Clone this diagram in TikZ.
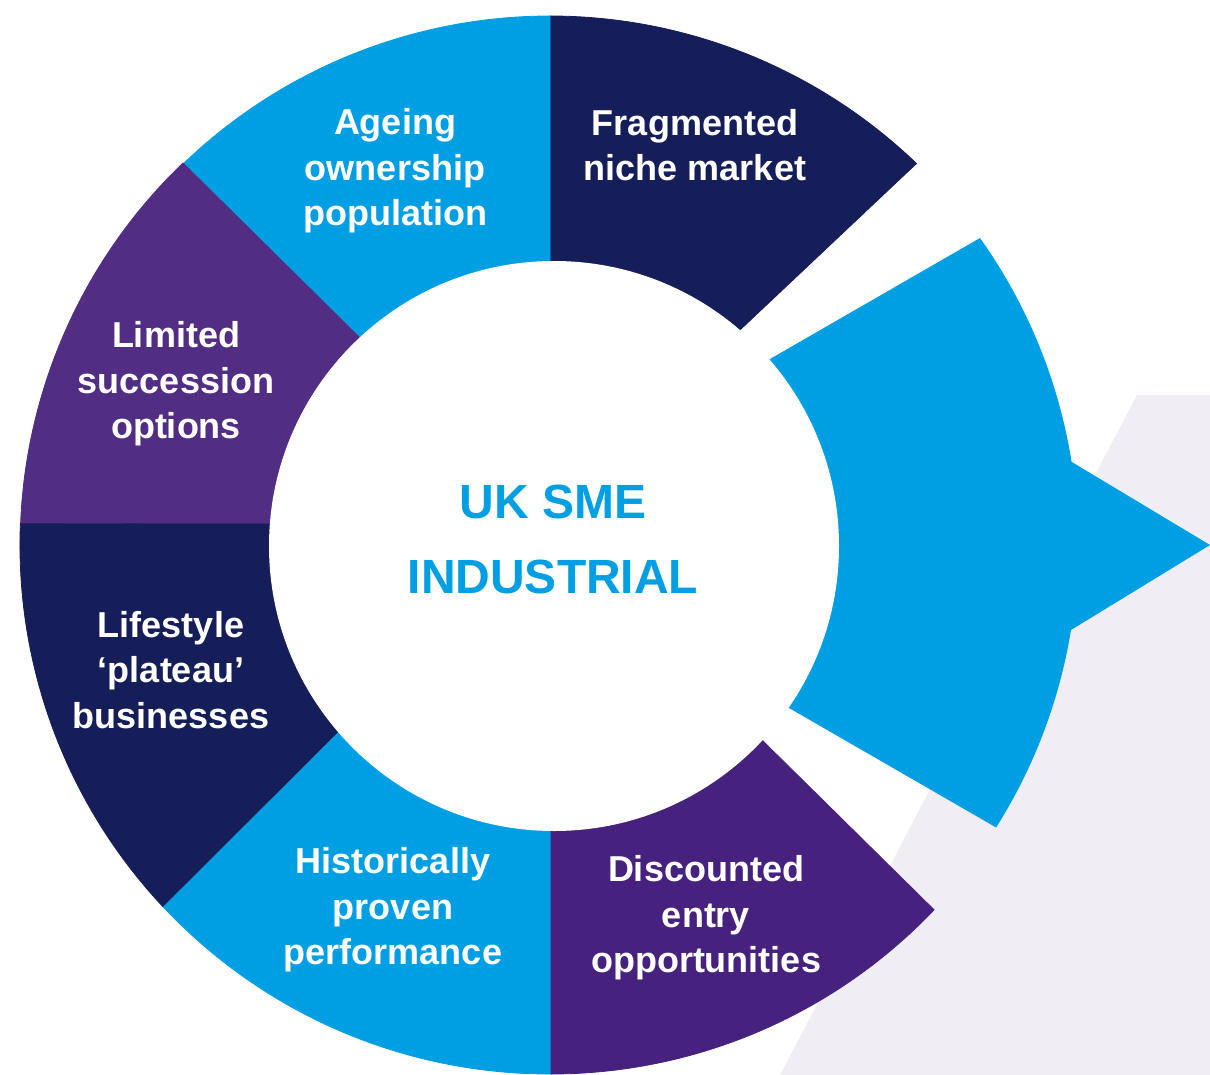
\documentclass[tikz,border=0pt]{standalone}
\usepackage{fontspec}
\setmainfont{Liberation Sans}
\definecolor{lblue}{HTML}{009FE3}
\definecolor{navy}{HTML}{161E5A}
\definecolor{purpA}{HTML}{512D84}
\definecolor{purpB}{HTML}{46227E}
\definecolor{bggray}{HTML}{F0EDF5}
\begin{document}
\begin{tikzpicture}[x=0.5pt,y=-0.5pt,
  seg/.style={fill=#1,draw=#1,line width=0.4pt,line join=miter},
  seglabel/.style={text=white,font=\bfseries\fontsize{18}{22.7}\selectfont,align=center,inner sep=0pt},
  centrelabel/.style={text=lblue,font=\bfseries\fontsize{24}{37.5}\selectfont,align=center,inner sep=0pt}]
\useasboundingbox (0,0) rectangle (1210,1075);
\clip (0,0) rectangle (1210,1075);
\coordinate (W) at (554,546);
% background
\fill[bggray] (1137,395) -- (1210,395) -- (1210,1075) -- (780,1075) -- cycle;
% ring segments
\path[seg=navy] (W) -- (550,546) -- (550,16) arc[start angle=-90,end angle=-46.15,radius=529] -- (741,329) -- cycle;
\path[seg=lblue] (W) -- (550,546) -- (550,16) arc[start angle=-90,end angle=-133.8,radius=529] -- (360,338) -- cycle;
\path[seg=purpA] (W) -- (360,338) -- (183,163) arc[start angle=-133.8,end angle=-177.7,radius=529] -- (270,524) -- cycle;
\path[seg=navy] (W) -- (270,524) -- (20.4,523.8) arc[start angle=-177.7,end angle=-223.2,radius=529] -- (338,733) -- cycle;
\path[seg=lblue] (W) -- (338,733) -- (163.4,907.1) arc[start angle=136.8,end angle=90,radius=529] -- (551,1074) -- (551,546) -- cycle;
\path[seg=purpB] (W) -- (551,546) -- (551,1074) arc[start angle=90,end angle=43.6,radius=529] -- (763,741) -- cycle;
% arrow
\fill[lblue] (770,359) -- (980,238) arc[start angle=-35.46,end angle=-9.03,radius=529] -- (1210,545) -- (1071,630) arc[start angle=9.25,end angle=32.28,radius=529] -- (789,708) -- (W) -- cycle;
% inner circle
\fill[white] (W) circle[radius=285];
% labels
\node[seglabel] (frag) at (695,145) {Fragmented\\niche market};
\node[seglabel] (age) at (395,171) {Ageing\\ownership\\population};
\node[seglabel] (lim) at (176,384) {Limited\\succession\\options};
\node[seglabel] (life) at (171,670) {Lifestyle\\‘plateau’\\businesses};
\node[seglabel] (hist) at (393,910) {Historically\\proven\\performance};
\node[seglabel] (disc) at (706,918) {Discounted\\entry\\opportunities};
\node[centrelabel] (centre) at (553,539) {UK SME\\INDUSTRIAL};
\end{tikzpicture}
\end{document}
